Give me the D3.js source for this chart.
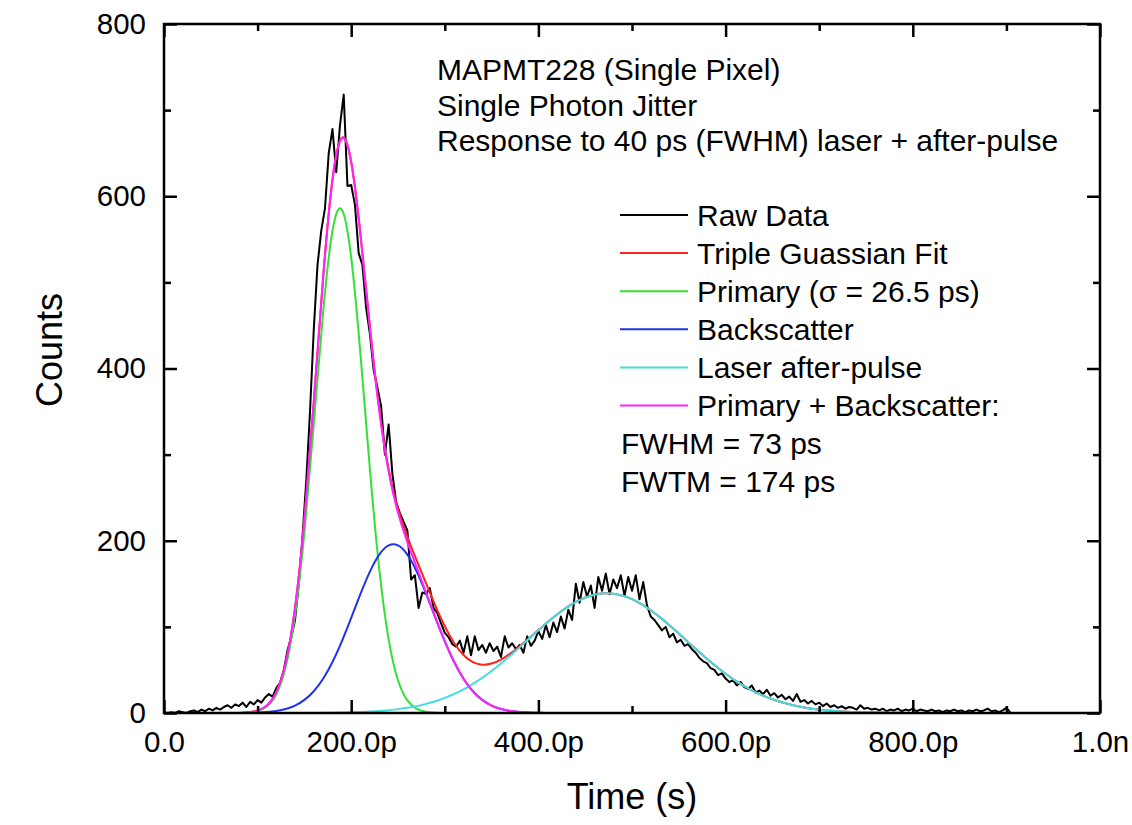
<!DOCTYPE html>
<html>
<head>
<meta charset="utf-8">
<script src="https://cdn.jsdelivr.net/npm/d3@7"></script>
<style>
  html, body { margin: 0; padding: 0; background: #fff; }
  svg { display: block; }
  text { font-family: "Liberation Sans", Arial, Helvetica, sans-serif; fill: #000; }
</style>
</head>
<body>
<svg id="chart" width="1132" height="825"></svg>
<script>
// ---------------- DATA ----------------
// Raw histogram: counts per 4 ps bin, starting at 0 ps
const rawBinPs = 4;
const rawCounts = [
  1,0,1,0,2,1,0,2,3,1,4,2,5,3,6,4,7,9,6,10,8,12,7,13,10,15,12,18,22,19,
  29,35,50,73,88,108,150,205,270,350,445,520,560,586,650,678,628,682,718,612,
  613,590,534,520,470,440,398,378,356,300,335,278,245,232,222,212,155,160,122,140,
  138,145,122,116,104,93,88,80,77,84,70,89,67,89,73,79,70,81,72,77,
  65,89,76,81,74,79,70,89,78,84,95,86,102,88,105,94,112,98,120,108,
  150,128,152,135,148,122,158,142,162,138,155,145,160,136,158,142,160,132,152,125,
  112,108,102,96,100,88,92,82,85,78,80,74,70,64,60,58,52,50,44,46,
  40,36,38,32,36,30,28,32,24,26,22,27,20,23,18,21,16,19,14,22,
  13,15,11,14,10,12,8,11,7,9,6,8,5,7,6,4,9,5,6,4,
  5,3,5,2,4,3,5,2,4,3,5,2,4,3,2,4,2,3,1,3,
  2,4,2,3,1,3,2,4,2,3,5,2,3,1,3,6,1
];

const fitStepPs = 10;
const primaryFit = [
  0,0,0,0,0,0,0,0,0,
  0.6,2.4,7.7,21.8,53.4,113.7,209.6,335.3,465.3,559.9,584.3,528.9,415.2,282.7,166.9,85.5,38.0,14.6,4.9,1.4,0.4,
  0,0,0,0,0,0,0,0,0,0, 0,0,0,0,0,0,0,0,0,0, 0,0,0,0,0,0,0,0,0,0,
  0,0,0,0,0,0,0,0,0,0, 0,0,0,0,0,0,0,0,0,0, 0,0,0,0,0,0,0,0,0,0, 0
];
const backscatterFit = [
  0,0,0,0,0,0,
  0,0,0.1,0.2,0.5,1.1,2.3,4.6,8.6,15.2,25.3,39.8,59.2,83.2,110.4,138.5,164.2,183.9,194.6,
  194.6,183.9,164.2,138.5,110.4,83.2,59.2,39.8,25.3,15.2,8.6,4.6,2.3,1.1,0.5,0.2,0.1,
  0,0,0,0,0,0,0,0,0,0, 0,0,0,0,0,0,0,0,0,0, 0,0,0,0,0,0,0,0,0,0,
  0,0,0,0,0,0,0,0,0,0, 0,0,0,0,0,0,0,0,0
];
const afterPulseFit = [
  0,0,0,0,0,0,0,0,0,0,0,0,0,0,0,
  0.1,0.1,0.2,0.4,0.5,
  0.8,1.2,1.7,2.3,3.2,4.5,6.0,8.0,10.6,13.7,17.5,22.1,27.5,33.8,40.9,48.8,57.5,66.7,76.4,86.3,
  96.1,105.6,114.4,122.3,128.9,134.0,137.4,138.9,138.5,136.2,132.2,126.4,119.3,111.0,101.9,92.2,82.3,72.5,62.9,53.9,
  45.5,37.9,31.2,25.2,20.2,15.9,12.4,9.5,7.2,5.3,3.9,2.8,2.0,1.4,1.0,0.7,0.5,0.3,0.2,0.1,0.1,
  0,0,0,0,0,0,0,0,0,0
];
const primaryPlusBackFit = [
  0,0,0,0,0,0,0,0,
  0.1,0.8,2.9,8.8,24.1,58.0,122.3,224.8,360.6,505.1,619.1,667.5,639.3,553.7,446.9,350.8,280.1,232.6,198.5,169.1,139.9,110.8,
  83.2,59.2,39.8,25.3,15.2,8.6,4.6,2.3,1.1,0.5,0.2,0.1,
  0,0,0,0,0,0,0,0,0,0, 0,0,0,0,0,0,0,0,0,0, 0,0,0,0,0,0,0,0,0,0,
  0,0,0,0,0,0,0,0,0,0, 0,0,0,0,0,0,0,0,0
];
const tripleFit = [
  0,0,0,0,0,0,0,0,
  0.1,0.8,2.9,8.8,24.1,58.0,122.3,224.9,360.7,505.3,619.5,668.0,640.1,554.9,448.6,353.1,283.3,237.1,204.5,177.1,150.5,124.5,
  100.7,81.3,67.3,59.1,56.1,57.4,62.1,69.0,77.5,86.8,96.3,105.7,114.4,
  122.3,128.9,134.0,137.4,138.9,138.5,136.2,132.2,126.4,119.3,111.0,101.9,92.2,82.3,72.5,62.9,53.9,
  45.5,37.9,31.2,25.2,20.2,15.9,12.4,9.5,7.2,5.3,3.9,2.8,2.0,1.4,1.0,0.7,0.5,0.3,0.2,0.1,0.1,
  0,0,0,0,0,0,0,0,0,0
];

// Axis ticks (x in ps)
const xMajorTicks = [0, 200, 400, 600, 800, 1000];
const xMajorLabels = ["0.0", "200.0p", "400.0p", "600.0p", "800.0p", "1.0n"];
const xMinorTicks = [100, 300, 500, 700, 900];
const yMajorTicks = [0, 200, 400, 600, 800];
const yMinorTicks = [100, 300, 500, 700];

// Text
const annotationLines = [
  "MAPMT228 (Single Pixel)",
  "Single Photon Jitter",
  "Response to 40 ps (FWHM) laser + after-pulse"
];
const legendLabels = ["Raw Data", "Triple Guassian Fit", "Primary (\u03c3 = 26.5 ps)",
                      "Backscatter", "Laser after-pulse", "Primary + Backscatter:"];
const legendColors = ["#000000", "#ff2020", "#33e033", "#2233ee", "#40dede", "#ff22ff"];
const legendExtra = ["FWHM = 73 ps", "FWTM = 174 ps"];

// ---------------- DRAW ----------------
const svg = d3.select("#chart");
svg.append("rect").attr("width", 1132).attr("height", 825).attr("fill", "#fff");

const pLeft = 164, pRight = 1100, pTop = 24, pBottom = 713;
const x = d3.scaleLinear().domain([0, 1000]).range([pLeft, pRight]);
const y = d3.scaleLinear().domain([0, 800]).range([pBottom, pTop]);

const FS = 30;
const TICK_FS = 29.5;

// Curves
const fitLine = d3.line()
  .x((d, i) => x(i * fitStepPs))
  .y(d => y(d))
  .curve(d3.curveNatural);
const rawLine = d3.line()
  .x((d, i) => x(i * rawBinPs))
  .y(d => y(d));

svg.append("path").datum(rawCounts).attr("d", rawLine)
  .attr("fill", "none").attr("stroke", legendColors[0]).attr("stroke-width", 2)
  .attr("stroke-linejoin", "round");

const fits = [
  [tripleFit, legendColors[1]],
  [primaryFit, legendColors[2]],
  [backscatterFit, legendColors[3]],
  [afterPulseFit, legendColors[4]],
  [primaryPlusBackFit, legendColors[5]]
];
fits.forEach(([data, col]) => {
  svg.append("path").datum(data).attr("d", fitLine)
    .attr("fill", "none").attr("stroke", col).attr("stroke-width", 2);
});

// Axes (ticks pointing inward)
function styleAxis(g) {
  g.select(".domain").remove();
  g.selectAll(".tick line").attr("stroke", "#000").attr("stroke-width", 2.5);
  g.selectAll(".tick text").attr("font-size", TICK_FS)
    .attr("font-family", '"Liberation Sans", Arial, Helvetica, sans-serif').attr("fill", "#000");
}
// bottom
svg.append("g").attr("transform", `translate(0,${pBottom})`)
  .call(d3.axisBottom(x).tickValues(xMajorTicks).tickSize(-13).tickPadding(18)
    .tickFormat((d, i) => xMajorLabels[i]))
  .call(styleAxis);
svg.append("g").attr("transform", `translate(0,${pBottom})`)
  .call(d3.axisBottom(x).tickValues(xMinorTicks).tickSize(-7).tickFormat(""))
  .call(styleAxis);
// top
svg.append("g").attr("transform", `translate(0,${pTop})`)
  .call(d3.axisTop(x).tickValues(xMajorTicks).tickSize(-13).tickFormat(""))
  .call(styleAxis);
svg.append("g").attr("transform", `translate(0,${pTop})`)
  .call(d3.axisTop(x).tickValues(xMinorTicks).tickSize(-7).tickFormat(""))
  .call(styleAxis);
// left
svg.append("g").attr("transform", `translate(${pLeft},0)`)
  .call(d3.axisLeft(y).tickValues(yMajorTicks).tickSize(-13).tickPadding(18)
    .tickFormat(d3.format("d")))
  .call(styleAxis);
svg.append("g").attr("transform", `translate(${pLeft},0)`)
  .call(d3.axisLeft(y).tickValues(yMinorTicks).tickSize(-7).tickFormat(""))
  .call(styleAxis);
// right
svg.append("g").attr("transform", `translate(${pRight},0)`)
  .call(d3.axisRight(y).tickValues(yMajorTicks).tickSize(-13).tickFormat(""))
  .call(styleAxis);
svg.append("g").attr("transform", `translate(${pRight},0)`)
  .call(d3.axisRight(y).tickValues(yMinorTicks).tickSize(-7).tickFormat(""))
  .call(styleAxis);

// Frame
svg.append("rect").attr("x", pLeft).attr("y", pTop)
  .attr("width", pRight - pLeft).attr("height", pBottom - pTop)
  .attr("fill", "none").attr("stroke", "#000").attr("stroke-width", 2.5);

// Axis titles
svg.append("text").attr("x", 632).attr("y", 809).attr("text-anchor", "middle")
  .attr("font-size", 36).text("Time (s)");
svg.append("text").attr("transform", "translate(62,350) rotate(-90)")
  .attr("text-anchor", "middle").attr("font-size", 36).text("Counts");

// Annotation
annotationLines.forEach((t, i) => {
  svg.append("text").attr("x", 437).attr("y", 80 + i * 35.5)
    .attr("font-size", FS).text(t);
});

// Legend
const legY0 = 215, legDy = 38.1;
legendLabels.forEach((t, i) => {
  const yy = legY0 + i * legDy;
  svg.append("line").attr("x1", 620).attr("x2", 688).attr("y1", yy).attr("y2", yy)
    .attr("stroke", legendColors[i]).attr("stroke-width", 2);
  svg.append("text").attr("x", 697).attr("y", yy + 10.5).attr("font-size", FS).text(t);
});
legendExtra.forEach((t, j) => {
  const yy = legY0 + (legendLabels.length + j) * legDy;
  svg.append("text").attr("x", 621).attr("y", yy + 10.5).attr("font-size", FS).text(t);
});
</script>
</body>
</html>
